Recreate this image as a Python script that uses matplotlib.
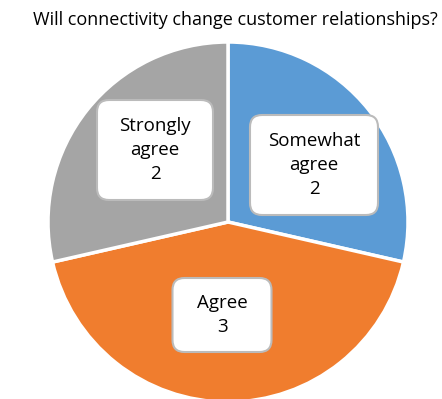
import matplotlib
matplotlib.use('Agg')
import matplotlib.pyplot as plt
from matplotlib.patches import FancyBboxPatch

title = 'Will connectivity change customer relationships?'
categories = ['Somewhat\nagree', 'Agree', 'Strongly\nagree']
counts = [2, 3, 2]
colors = ['#5B9BD5', '#F07D2E', '#A5A5A5']

W, H = 442, 399
# label box centres and sizes in pixels of the image (top-left origin)
label_pos = [(314, 165), (222, 315), (155, 150)]
box_size = [(128, 100), (99, 74), (116, 100)]

plt.rcParams['font.family'] = ['Open Sans', 'DejaVu Sans']

fig = plt.figure(figsize=(W / 100, H / 100), dpi=100)
ax = fig.add_axes([0, 0, 1, 1])

ax.pie(counts, colors=colors, startangle=90, counterclock=False,
       center=(228, H - 222), radius=180, frame=False,
       wedgeprops=dict(edgecolor='white', linewidth=2.5))
ax.set_xlim(0, W)
ax.set_ylim(0, H)
ax.set_aspect('equal')
ax.axis('off')

for cat, n, (x, y), (bw, bh) in zip(categories, counts, label_pos, box_size):
    box = FancyBboxPatch((x - bw / 2, H - y - bh / 2), bw, bh,
                         boxstyle='round,pad=0,rounding_size=12',
                         facecolor='white', edgecolor='#BBBBBB',
                         linewidth=1.5, zorder=3)
    ax.add_patch(box)
    ax.text(x, H - y, f'{cat}\n{n}', ha='center', va='center', fontsize=13.5,
            linespacing=1.4, zorder=4)

ax.text(235, H - 20, title, ha='center', va='center', fontsize=13)

fig.savefig('out.png', dpi=100)
